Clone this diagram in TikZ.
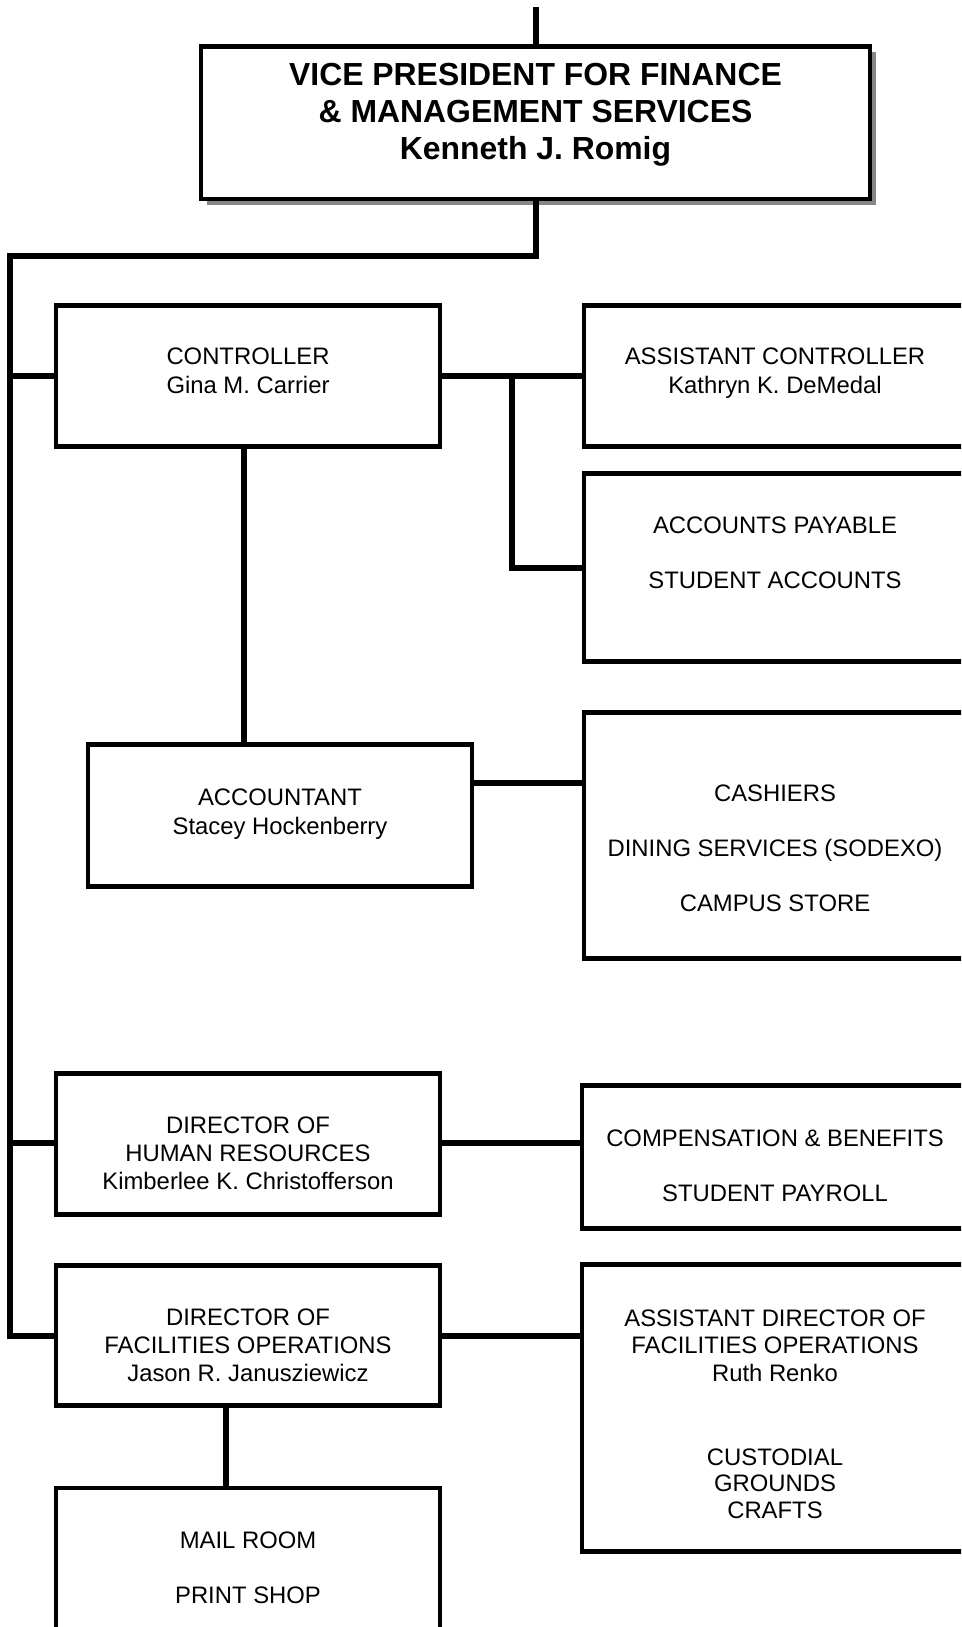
\documentclass[tikz,border=0pt]{standalone}
\usepackage{fontspec}
\setmainfont{Liberation Sans}
\usetikzlibrary{shadows}
\begin{document}
\begin{tikzpicture}[x=1pt,y=-1pt,
  box/.style={draw, line width=4.2pt, rectangle, inner sep=0pt, outer sep=0pt, fill=white},
  conn/.style={line width=6pt},
  txt/.style={inner sep=0pt, anchor=base, font=\fontsize{23.85}{28}\selectfont},
  btxt/.style={inner sep=0pt, anchor=base, font=\fontsize{31.9}{37}\selectfont\bfseries}]
\useasboundingbox (0,0) rectangle (961,1627);
\clip (0,0) rectangle (961,1627);

% coordinates for connector positions
\coordinate (top) at (536.3,7);
\coordinate (jn) at (536.3,255.7);
\coordinate (tl) at (10.3,255.7);
\coordinate (tb) at (10.3,1336);
\coordinate (sctrl) at (10.3,376);
\coordinate (shr) at (10.3,1143);
\coordinate (br) at (512,376);
\coordinate (brb) at (512,568);
\coordinate (xa) at (244,0);
\coordinate (ya) at (0,783);
\coordinate (yh) at (0,1143);
\coordinate (yf) at (0,1336);
\coordinate (xm) at (226,0);

% boxes
\node[box, minimum width=668.7pt, minimum height=152.2pt,
  drop shadow={shadow xshift=6pt, shadow yshift=-6pt, fill=black!47, opacity=1}] (vp) at (535.4,122.6) {};
\node[box, minimum width=384.5pt, minimum height=141pt] (ctrl) at (248,376) {};
\node[box, minimum width=384.5pt, minimum height=141pt] (asst) at (776,376) {};
\node[box, minimum width=384.5pt, minimum height=188pt] (ap) at (776,567.5) {};
\node[box, minimum width=384pt, minimum height=142pt] (acct) at (280,815.5) {};
\node[box, minimum width=384.5pt, minimum height=246pt] (cash) at (776,835.5) {};
\node[box, minimum width=384.5pt, minimum height=141pt] (hr) at (248,1144) {};
\node[box, minimum width=387pt, minimum height=143pt] (comp) at (775.5,1157) {};
\node[box, minimum width=384.5pt, minimum height=140pt] (fac) at (248,1335.5) {};
\node[box, minimum width=387pt, minimum height=287pt] (adir) at (775.5,1408) {};
\node[box, minimum width=384.5pt, minimum height=152pt] (mail) at (248,1564) {};

% connectors
\draw[conn] (top) -- (vp.north -| top);
\draw[conn] (vp.south -| jn) -- (jn) -- (tl) -- (tb) -- (fac.west |- tb);
\draw[conn] (sctrl) -- (ctrl.west |- sctrl);
\draw[conn] (shr) -- (hr.west |- shr);
\draw[conn] (ctrl.east |- br) -- (asst.west |- br);
\draw[conn] (br) -- (brb) -- (ap.west |- brb);
\draw[conn] (ctrl.south -| xa) -- (acct.north -| xa);
\draw[conn] (acct.east |- ya) -- (cash.west |- ya);
\draw[conn] (hr.east |- yh) -- (comp.west |- yh);
\draw[conn] (fac.east |- yf) -- (adir.west |- yf);
\draw[conn] (fac.south -| xm) -- (mail.north -| xm);

% texts
\node[btxt] (vp1) at (535.5,85.5) {VICE PRESIDENT FOR FINANCE};
\node[btxt] (vp2) at (535.5,122.5) {\& MANAGEMENT SERVICES};
\node[btxt] (vp3) at (535.5,159.5) {Kenneth J. Romig};

\node[txt] (c1) at (248,364.5) {CONTROLLER};
\node[txt] (c2) at (248,393.5) {Gina M. Carrier};

\node[txt] (a1) at (775,364.5) {ASSISTANT CONTROLLER};
\node[txt] (a2) at (775,393.5) {Kathryn K. DeMedal};

\node[txt] (p1) at (775,533.5) {ACCOUNTS PAYABLE};
\node[txt] (p2) at (775,588.5) {STUDENT ACCOUNTS};

\node[txt] (n1) at (280,805.5) {ACCOUNTANT};
\node[txt] (n2) at (280,834.5) {Stacey Hockenberry};

\node[txt] (s1) at (775,801.5) {CASHIERS};
\node[txt] (s2) at (775,856.5) {DINING SERVICES (SODEXO)};
\node[txt] (s3) at (775,911.5) {CAMPUS STORE};

\node[txt] (h1) at (248,1133.5) {DIRECTOR OF};
\node[txt] (h2) at (248,1161.5) {HUMAN RESOURCES};
\node[txt] (h3) at (248,1189.5) {Kimberlee K. Christofferson};

\node[txt] (m1) at (775,1146.5) {COMPENSATION \& BENEFITS};
\node[txt] (m2) at (775,1201.5) {STUDENT PAYROLL};

\node[txt] (f1) at (248,1325.5) {DIRECTOR OF};
\node[txt] (f2) at (248,1353.5) {FACILITIES OPERATIONS};
\node[txt] (f3) at (248,1381.5) {Jason R. Janusziewicz};

\node[txt] (d1) at (775,1326.5) {ASSISTANT DIRECTOR OF};
\node[txt] (d2) at (775,1353.5) {FACILITIES OPERATIONS};
\node[txt] (d3) at (775,1381.5) {Ruth Renko};
\node[txt] (d4) at (775,1465.5) {CUSTODIAL};
\node[txt] (d5) at (775,1491.5) {GROUNDS};
\node[txt] (d6) at (775,1518.5) {CRAFTS};

\node[txt] (l1) at (248,1548.5) {MAIL ROOM};
\node[txt] (l2) at (248,1603.5) {PRINT SHOP};
\end{tikzpicture}
\end{document}
